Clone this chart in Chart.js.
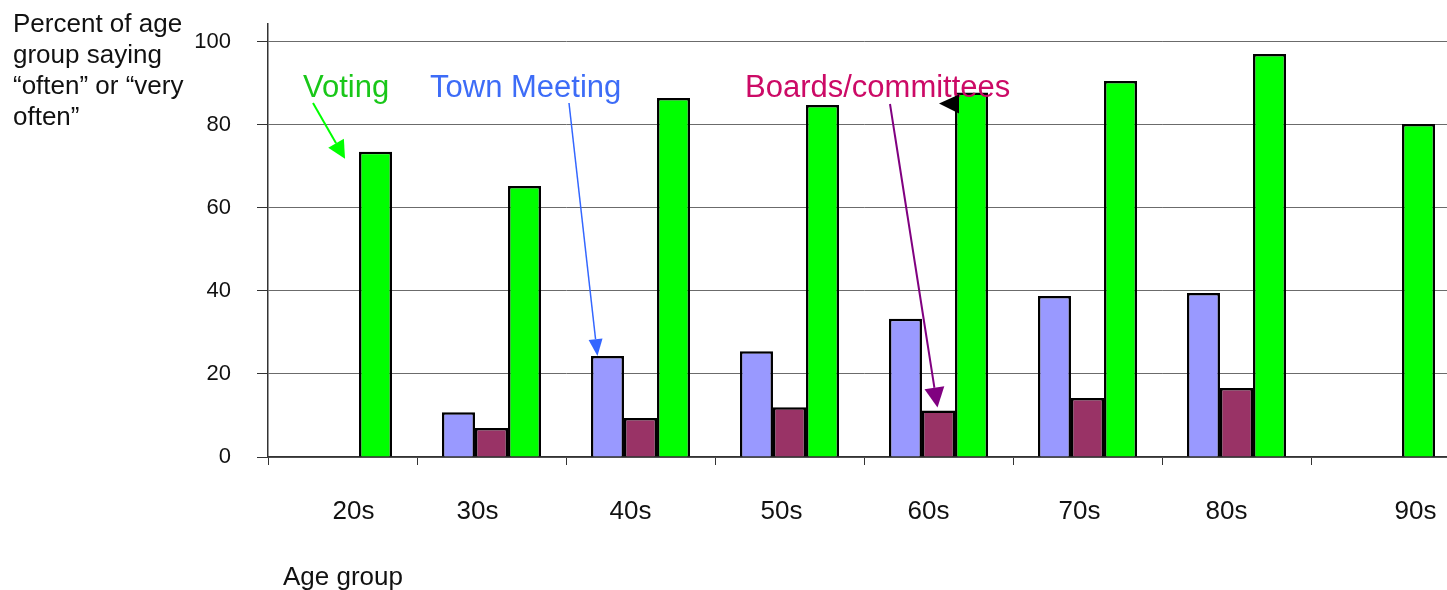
<!DOCTYPE html>
<html>
<head>
<meta charset="utf-8">
<title>Participation by age group</title>
<script src="https://cdn.jsdelivr.net/npm/chart.js@4.4.1/dist/chart.umd.min.js"></script>
<style>
    html, body { margin: 0; padding: 0; background: #fff; overflow: hidden; }
    #wrap { width: 1470px; height: 590px; }
</style>
</head>
<body>
<div id="wrap"><canvas id="ageChart" width="1470" height="590"></canvas></div>
<script>
// Survey values: percent of each age group answering "often" or "very often"
const ageGroups = ['20s', '30s', '40s', '50s', '60s', '70s', '80s', '90s'];
const townMeeting = [null, 10.8, 24.3, 25.5, 33.3, 38.8, 39.5, null];
const boards = [null, 7.0, 9.4, 12.0, 11.2, 14.2, 16.6, null];
const voting = [73.5, 65.3, 86.5, 84.8, 87.8, 90.6, 97.1, 80.2];
const yTicks = [0, 20, 40, 60, 80, 100];

const FONT = '"Liberation Sans", Arial, Helvetica, sans-serif';

// small nudges for the category labels under the axis
const labelShift = [11, -14, -10, -8, -10, -8, -10, 30];

function drawArrow(ctx, x0, y0, x1, y1, color, width, headLen, headW) {
    const ang = Math.atan2(y1 - y0, x1 - x0);
    const bx = x1 - headLen * Math.cos(ang);
    const by = y1 - headLen * Math.sin(ang);
    ctx.strokeStyle = color;
    ctx.lineWidth = width;
    ctx.beginPath();
    ctx.moveTo(x0, y0);
    ctx.lineTo(bx, by);
    ctx.stroke();
    ctx.fillStyle = color;
    ctx.beginPath();
    ctx.moveTo(x1, y1);
    ctx.lineTo(bx + headW / 2 * Math.sin(ang), by - headW / 2 * Math.cos(ang));
    ctx.lineTo(bx - headW / 2 * Math.sin(ang), by + headW / 2 * Math.cos(ang));
    ctx.closePath();
    ctx.fill();
}

// Axis titles, category labels and the series call-outs
const annotations = {
    id: 'annotations',
    afterDatasetsDraw(chart) {
        const ctx = chart.ctx;
        const x = chart.scales.x;
        ctx.save();

        // y axis title, top left
        ctx.fillStyle = '#111';
        ctx.font = '26px ' + FONT;
        ctx.textAlign = 'left';
        ctx.textBaseline = 'alphabetic';
        ['Percent of age', 'group saying', '\u201coften\u201d or \u201cvery', 'often\u201d']
            .forEach((line, i) => ctx.fillText(line, 13, 32 + i * 31));

        // category labels
        ctx.textAlign = 'center';
        ctx.textBaseline = 'middle';
        ageGroups.forEach((g, i) => {
            ctx.fillText(g, x.getPixelForValue(i) + labelShift[i], 512);
        });

        // x axis title
        ctx.textAlign = 'left';
        ctx.textBaseline = 'alphabetic';
        ctx.fillText('Age group', 283, 585);

        // series labels
        ctx.font = '31px ' + FONT;
        ctx.fillStyle = '#19c719';
        ctx.fillText('Voting', 303, 97);
        ctx.fillStyle = '#3d6cf7';
        ctx.fillText('Town Meeting', 430, 97);
        ctx.fillStyle = '#cc0a66';
        ctx.fillText('Boards/committees', 745, 97);

        // arrows pointing to sample bars
        const vBar = chart.getDatasetMeta(2).data[0];
        drawArrow(ctx, 313, 103, vBar.x - vBar.width / 2 - 14, vBar.y + 7, '#00ff00', 2, 18, 18);

        const tBar = chart.getDatasetMeta(0).data[2];
        drawArrow(ctx, 569, 103, tBar.x - 10, tBar.y, '#3366ff', 1.5, 17, 14);

        const bBar = chart.getDatasetMeta(1).data[4];
        drawArrow(ctx, 890, 104, bBar.x - 1, bBar.y - 3, '#800080', 2, 20, 20);

        // stray black arrowhead at the 60s voting bar
        const gBar = chart.getDatasetMeta(2).data[4];
        const gl = gBar.x - gBar.width / 2;
        ctx.fillStyle = '#000';
        ctx.beginPath();
        ctx.moveTo(gl - 16, gBar.y + 11);
        ctx.lineTo(gl + 4, gBar.y + 2);
        ctx.lineTo(gl + 4, gBar.y + 21);
        ctx.closePath();
        ctx.fill();

        ctx.restore();
    }
};

new Chart(document.getElementById('ageChart'), {
    type: 'bar',
    data: {
        labels: ageGroups,
        datasets: [{
            label: 'Town Meeting',
            data: townMeeting,
            backgroundColor: '#9999ff',
            borderColor: '#000',
            borderWidth: 2.5,
            borderSkipped: 'bottom'
        }, {
            label: 'Boards/committees',
            data: boards,
            backgroundColor: '#993366',
            borderColor: '#000',
            borderWidth: 2.5,
            borderSkipped: 'bottom'
        }, {
            label: 'Voting',
            data: voting,
            backgroundColor: '#00ff00',
            borderColor: '#000',
            borderWidth: 2.5,
            borderSkipped: 'bottom'
        }]
    },
    options: {
        responsive: false,
        animation: false,
        devicePixelRatio: 1,
        layout: { padding: { top: 24, right: 10, bottom: 125, left: 0 } },
        datasets: {
            bar: { categoryPercentage: 0.665, barPercentage: 1 }
        },
        scales: {
            x: {
                grid: {
                    offset: true,
                    drawOnChartArea: false,
                    drawTicks: true,
                    tickLength: 8,
                    tickColor: '#333'
                },
                border: { color: '#333', width: 1.5 },
                ticks: { display: false }
            },
            y: {
                min: 0,
                max: 104.3,
                afterFit: s => {
                    s.width = 268;
                    s.paddingTop = 0;
                    s.paddingBottom = 0;
                },
                afterBuildTicks: s => { s.ticks = yTicks.map(v => ({ value: v })); },
                grid: {
                    color: '#6b6b6b',
                    lineWidth: 1,
                    drawTicks: true,
                    tickLength: 11,
                    tickColor: '#333'
                },
                border: { color: '#333', width: 1.5 },
                ticks: {
                    padding: 26,
                    color: '#111',
                    font: { family: FONT, size: 22 }
                }
            }
        },
        plugins: {
            legend: { display: false },
            tooltip: { enabled: false }
        }
    },
    plugins: [annotations]
});
</script>
</body>
</html>
